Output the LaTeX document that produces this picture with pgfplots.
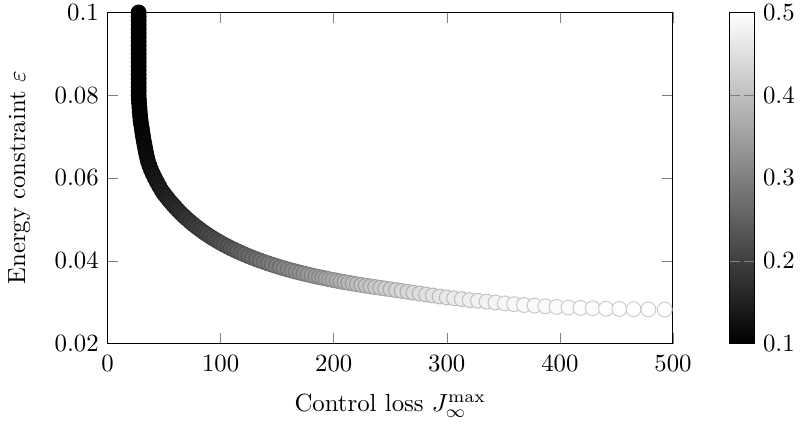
\documentclass[border=0pt]{standalone}
\usepackage{pgfplots}
\usepackage{pgfplotstable}
\pgfplotsset{compat=1.18}

% x = control loss, y = energy constraint, c = colour value
\pgfplotstableread{
x y c
27.5 0.100 0.100
27.5 0.099 0.100
27.5 0.098 0.100
27.5 0.097 0.100
27.5 0.096 0.100
27.5 0.095 0.100
27.5 0.094 0.100
27.5 0.093 0.100
27.5 0.092 0.100
27.5 0.091 0.100
27.5 0.090 0.100
27.5 0.089 0.100
27.5 0.088 0.100
27.5 0.087 0.100
27.5 0.086 0.100
27.5 0.085 0.100
27.5 0.084 0.100
27.5 0.083 0.100
27.5 0.082 0.100
27.5 0.081 0.100
27.5 0.080 0.100
27.7 0.079 0.101
27.9 0.078 0.102
28.2 0.077 0.103
28.5 0.076 0.104
28.8 0.075 0.105
29.2 0.074 0.106
29.7 0.073 0.107
30.3 0.072 0.108
30.8 0.071 0.109
31.4 0.070 0.110
32.0 0.069 0.112
32.7 0.068 0.113
33.4 0.067 0.115
34.1 0.066 0.117
34.9 0.065 0.119
35.8 0.064 0.121
37.0 0.063 0.124
38.4 0.062 0.127
40.0 0.061 0.130
41.8 0.060 0.133
43.7 0.059 0.137
45.7 0.058 0.141
48.0 0.05692 0.145
50.0 0.05617 0.148
52.0 0.05546 0.151
54.0 0.05477 0.155
56.0 0.05412 0.158
58.0 0.05349 0.161
60.0 0.05288 0.164
62.5 0.05216 0.168
65.0 0.05146 0.173
67.5 0.05080 0.177
70.0 0.05017 0.181
73.0 0.04945 0.186
76.0 0.04877 0.191
79.0 0.04812 0.195
82.0 0.04750 0.200
85.0 0.04691 0.204
88.0 0.04635 0.209
91.0 0.04581 0.213
94.0 0.04530 0.218
97.0 0.04481 0.222
100.0 0.04434 0.227
103.0 0.04389 0.232
106.0 0.04346 0.236
109.0 0.04304 0.241
112.0 0.04264 0.245
115.0 0.04226 0.250
118.0 0.04189 0.254
121.0 0.04153 0.259
124.5 0.04113 0.264
128.0 0.04075 0.269
131.5 0.04038 0.274
135.0 0.04003 0.279
138.5 0.03969 0.284
142.0 0.03936 0.289
145.5 0.03905 0.294
149.0 0.03874 0.298
152.5 0.03845 0.303
156.0 0.03817 0.308
159.5 0.03790 0.312
163.0 0.03764 0.317
166.5 0.03738 0.322
170.0 0.03714 0.326
173.5 0.03690 0.331
177.0 0.03667 0.336
180.5 0.03645 0.341
184.0 0.03623 0.346
187.1 0.03605 0.350
190.0 0.03588 0.354
193.0 0.03571 0.358
196.1 0.03553 0.362
199.3 0.03536 0.367
202.6 0.03519 0.371
206.0 0.03501 0.376
209.5 0.03484 0.381
213.0 0.03467 0.386
216.7 0.03450 0.391
220.5 0.03432 0.396
224.4 0.03415 0.401
228.4 0.03398 0.406
232.5 0.03381 0.410
236.7 0.03364 0.414
241.1 0.03346 0.418
245.6 0.03328 0.422
250.3 0.03309 0.426
255.1 0.03290 0.430
260.1 0.03270 0.433
265.2 0.03249 0.437
270.5 0.03228 0.441
276.0 0.03206 0.445
281.7 0.03183 0.449
287.6 0.03160 0.453
293.7 0.03136 0.457
300.0 0.03115 0.461
306.5 0.03094 0.465
313.3 0.03072 0.468
320.3 0.03049 0.472
327.6 0.03031 0.475
335.2 0.03011 0.478
343.1 0.02991 0.482
351.3 0.02970 0.4850
359.5 0.02950 0.4865
368.3 0.02930 0.4877
377.7 0.02915 0.4888
387.1 0.02900 0.4900
397.1 0.02885 0.4912
407.6 0.02870 0.4924
418.2 0.02860 0.4936
429.1 0.02850 0.4947
440.8 0.02840 0.4958
452.6 0.02835 0.4968
465.2 0.02830 0.4978
478.3 0.02825 0.4989
492.7 0.02820 0.5000
}\paretodata

\begin{document}
\begin{tikzpicture}
\begin{axis}[
  scale only axis,
  width=228pt,
  height=133.5pt,
  xmin=0, xmax=500,
  ymin=0.02, ymax=0.1,
  xtick={0,100,...,500},
  ytick={0.02,0.04,0.06,0.08,0.1},
  scaled y ticks=false,
  yticklabel style={/pgf/number format/fixed, inner ysep=1.8pt},
  xticklabel style={yshift=-1.5pt},
  xlabel={Control loss $J_\infty^{\max}$},
  xlabel style={yshift=-2pt},
  ylabel={Energy constraint $\varepsilon$},
  ylabel shift=3pt,
  colormap/blackwhite,
  point meta min=0.1,
  point meta max=0.5,
  colorbar,
  colorbar shift/.style={xshift=22.8pt},
  colorbar style={
    at={(parent axis.north east)},
    anchor=north west,
    width=10pt,
    ytick={0.1,0.2,0.3,0.4,0.5},
    yticklabel style={/pgf/number format/fixed, inner ysep=1.8pt},
  },
]
\addplot[scatter, only marks, mark=*, mark size=3pt, point meta=explicit]
  table[x=x, y=y, meta=c] {\paretodata};
\end{axis}
\end{tikzpicture}
\end{document}
